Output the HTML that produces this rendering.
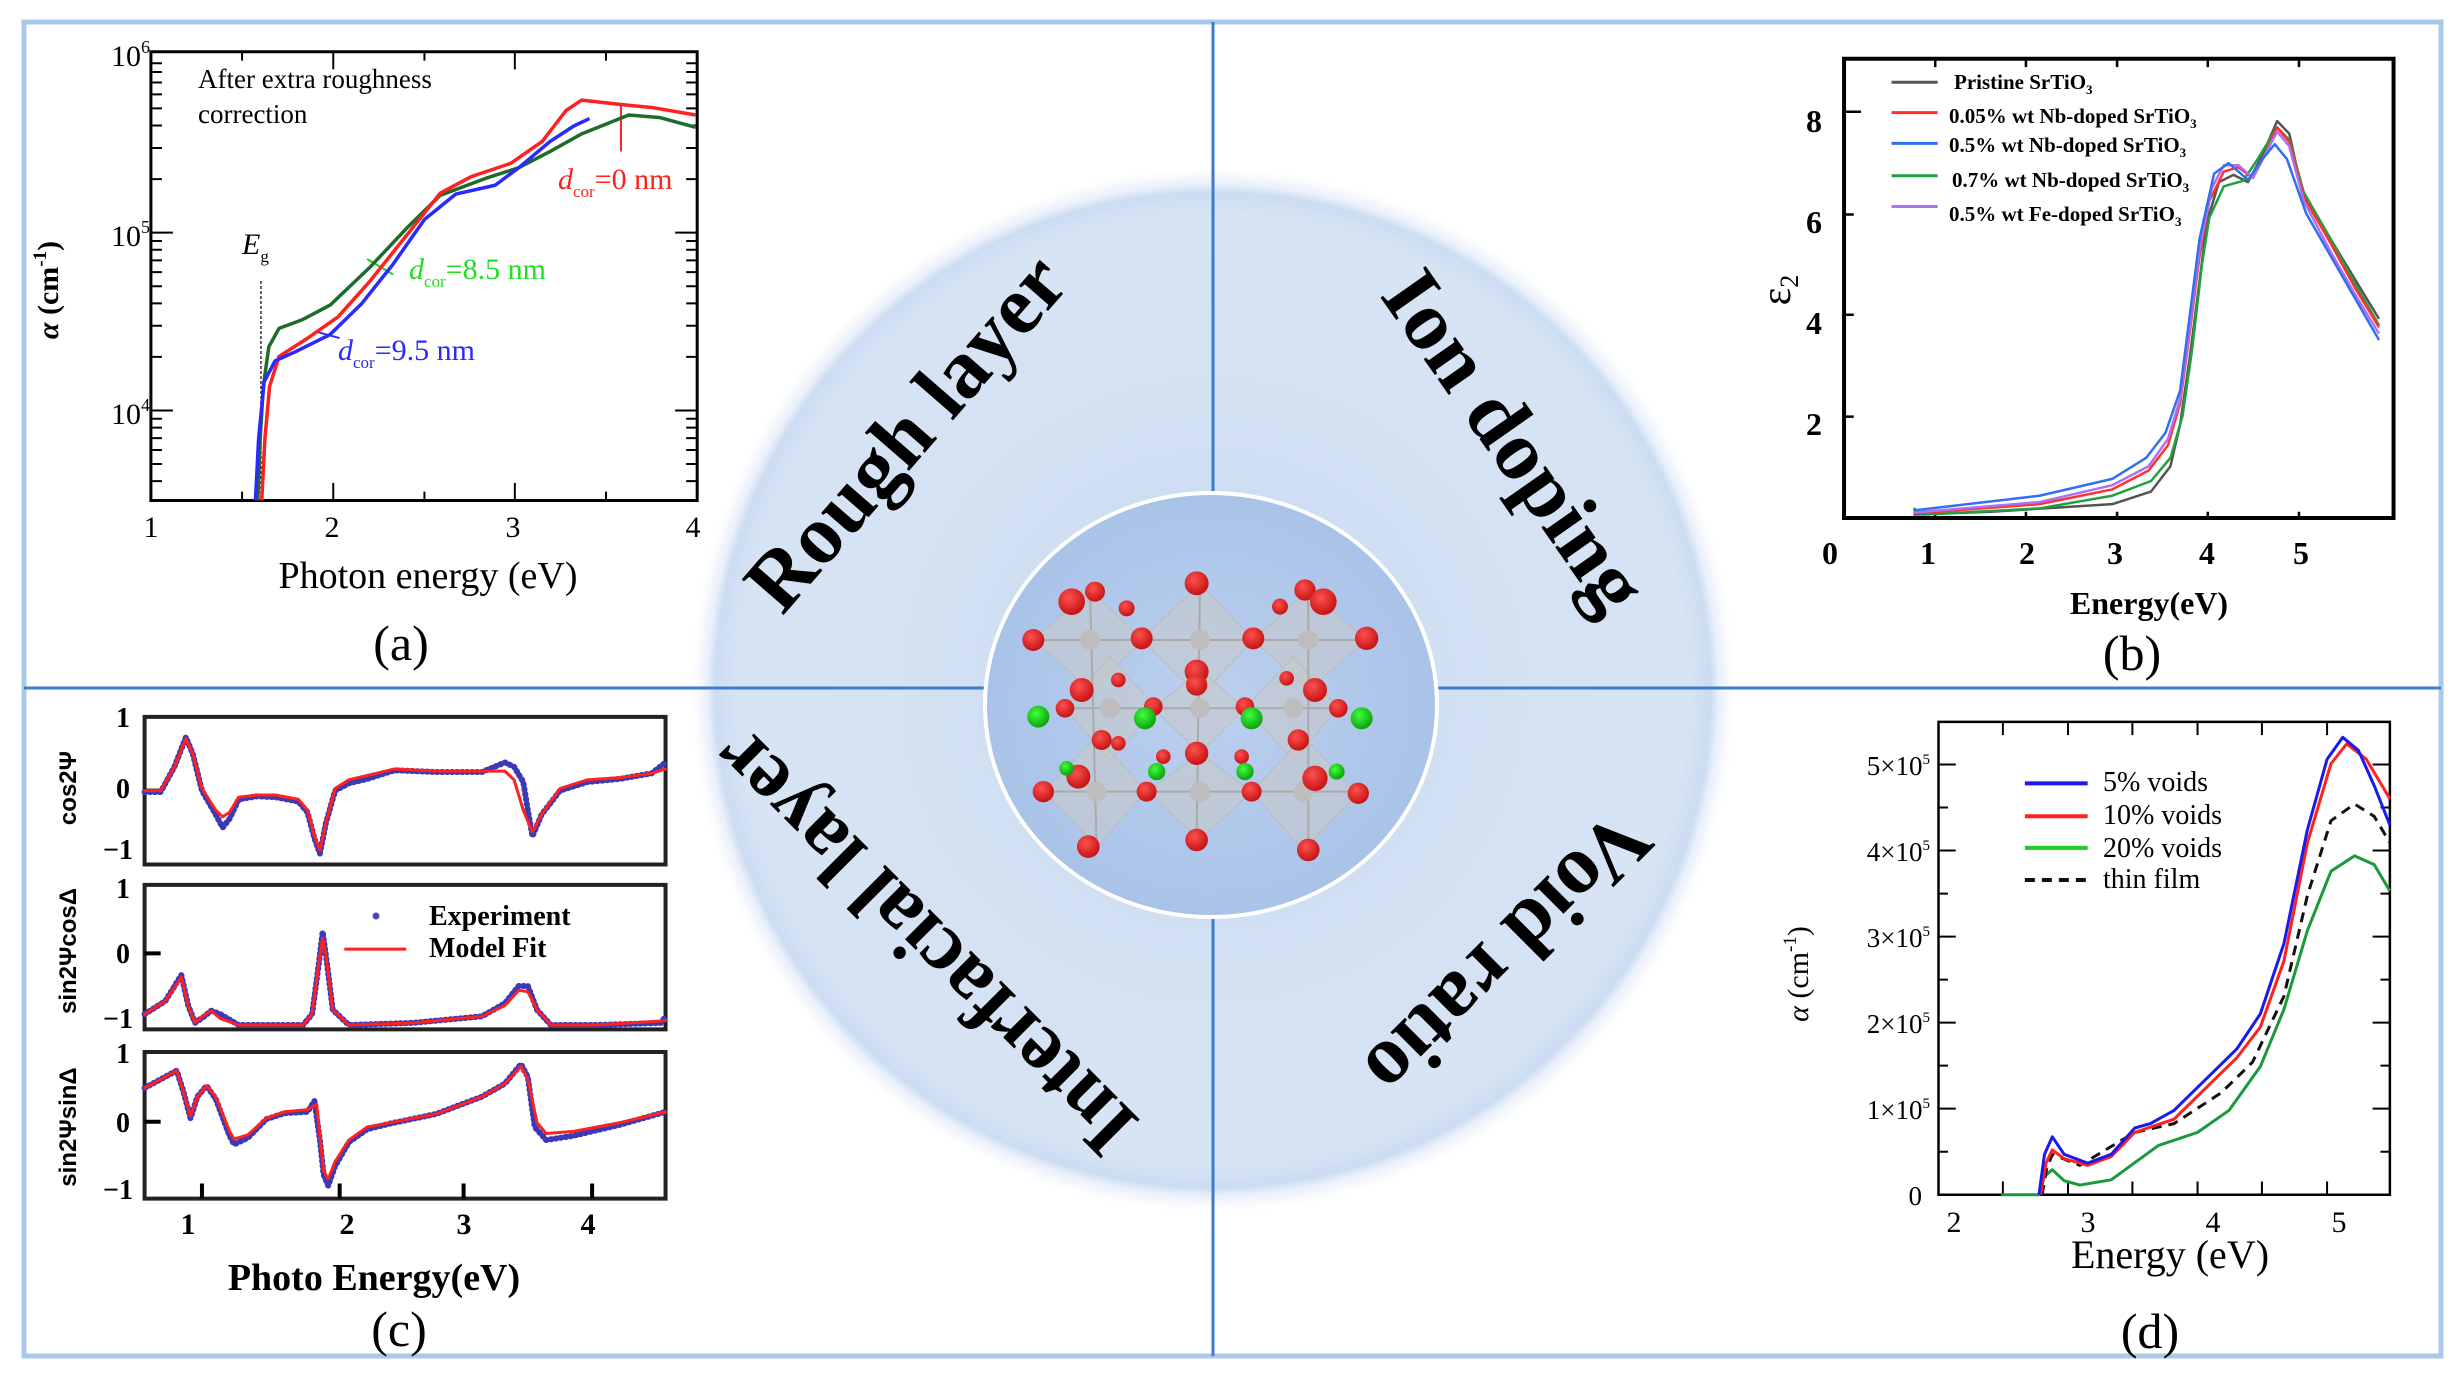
<!DOCTYPE html>
<html><head><meta charset="utf-8"><style>
html,body{margin:0;padding:0;background:#fff;}
svg{display:block;}
.serif{font-family:"Liberation Serif",serif;}
.sans{font-family:"Liberation Sans",sans-serif;}
</style></head><body>
<svg width="2463" height="1378" viewBox="0 0 2463 1378" xmlns="http://www.w3.org/2000/svg">
<defs>
<radialGradient id="big" cx="0.5" cy="0.5" r="0.5">
<stop offset="0" stop-color="#c2d5ee"/>
<stop offset="0.55" stop-color="#d3e1f3"/>
<stop offset="0.94" stop-color="#d7e4f4"/>
<stop offset="0.985" stop-color="#ccdcf2"/>
<stop offset="1" stop-color="#e6eef9"/>
</radialGradient>
<radialGradient id="inner" cx="0.5" cy="0.5" r="0.5">
<stop offset="0" stop-color="#bcd0ee"/>
<stop offset="1" stop-color="#a9c3e8"/>
</radialGradient>
<radialGradient id="rb" cx="0.4" cy="0.35" r="0.6">
<stop offset="0" stop-color="#ff5050"/><stop offset="1" stop-color="#c81818"/>
</radialGradient>
<radialGradient id="gb" cx="0.4" cy="0.35" r="0.6">
<stop offset="0" stop-color="#40ff40"/><stop offset="1" stop-color="#10a810"/>
</radialGradient>
<filter id="blur"><feGaussianBlur stdDeviation="6"/></filter>
</defs>

<!-- frame -->
<rect x="24" y="22" width="2417" height="1334" fill="#fff" stroke="#a9c8ec" stroke-width="5"/>

<!-- big circle -->
<circle cx="1213" cy="690" r="512" fill="#e6eef9" filter="url(#blur)"/>
<circle cx="1213" cy="690" r="505" fill="url(#big)"/>

<!-- cross lines -->
<line x1="1213" y1="22" x2="1213" y2="1356" stroke="#3b7dcc" stroke-width="3"/>
<line x1="24" y1="688" x2="2441" y2="688" stroke="#3b7dcc" stroke-width="3"/>

<!-- inner circle -->
<ellipse cx="1211" cy="705" rx="226" ry="212" fill="url(#inner)" stroke="#fff" stroke-width="4"/>

<!-- crystal -->
<g transform="translate(950,470) scale(0.3333)">
<g fill="#c8c8c8" fill-opacity="0.55" stroke="#bbb" stroke-width="3">
<polygon points="420,360 580,510 420,660 250,510"/>
<polygon points="750,340 910,510 750,680 575,510"/>
<polygon points="1075,360 1250,510 1075,660 910,510"/>
<polygon points="480,560 620,715 480,870 345,715"/>
<polygon points="750,600 885,715 750,850 610,715"/>
<polygon points="1030,560 1165,715 1030,870 885,715"/>
<polygon points="440,800 590,965 440,1130 280,965"/>
<polygon points="750,850 905,965 750,1110 590,965"/>
<polygon points="1060,800 1225,970 1060,1140 905,965"/>
</g>
<g stroke="#aaa" stroke-width="6">
<line x1="250" y1="510" x2="1250" y2="510"/><line x1="345" y1="715" x2="1165" y2="715"/><line x1="280" y1="965" x2="1225" y2="965"/>
<line x1="420" y1="360" x2="440" y2="1130"/><line x1="750" y1="340" x2="740" y2="1110"/><line x1="1075" y1="360" x2="1075" y2="1140"/>
</g>
<g fill="#bdbdbd">
<circle cx="420" cy="510" r="30"/><circle cx="750" cy="510" r="30"/><circle cx="1075" cy="510" r="30"/>
<circle cx="480" cy="715" r="30"/><circle cx="750" cy="715" r="30"/><circle cx="1030" cy="715" r="30"/>
<circle cx="440" cy="965" r="30"/><circle cx="750" cy="965" r="30"/><circle cx="1060" cy="965" r="30"/>
</g>
<g fill="url(#rb)">
<circle cx="740" cy="340" r="36"/><circle cx="365" cy="395" r="40"/><circle cx="435" cy="365" r="30"/><circle cx="1065" cy="360" r="32"/><circle cx="1120" cy="395" r="40"/>
<circle cx="250" cy="510" r="33"/><circle cx="575" cy="505" r="33"/><circle cx="910" cy="505" r="33"/><circle cx="1250" cy="505" r="35"/>
<circle cx="740" cy="605" r="36"/><circle cx="740" cy="645" r="32"/><circle cx="395" cy="660" r="36"/><circle cx="1095" cy="660" r="36"/>
<circle cx="345" cy="715" r="28"/><circle cx="610" cy="710" r="28"/><circle cx="885" cy="710" r="28"/><circle cx="1165" cy="715" r="28"/>
<circle cx="455" cy="810" r="30"/><circle cx="1045" cy="810" r="32"/><circle cx="740" cy="850" r="35"/><circle cx="640" cy="860" r="22"/><circle cx="875" cy="860" r="22"/>
<circle cx="385" cy="920" r="36"/><circle cx="1095" cy="925" r="38"/><circle cx="280" cy="965" r="32"/><circle cx="590" cy="965" r="30"/><circle cx="905" cy="965" r="30"/><circle cx="1225" cy="970" r="32"/>
<circle cx="415" cy="1130" r="34"/><circle cx="740" cy="1110" r="34"/><circle cx="1075" cy="1140" r="34"/><circle cx="530" cy="415" r="24"/><circle cx="990" cy="410" r="24"/>
<circle cx="505" cy="630" r="22"/><circle cx="1010" cy="625" r="22"/><circle cx="505" cy="820" r="22"/>
</g>
<g fill="url(#gb)">
<circle cx="265" cy="740" r="33"/><circle cx="585" cy="745" r="33"/><circle cx="905" cy="745" r="33"/><circle cx="1235" cy="745" r="33"/>
<circle cx="620" cy="905" r="26"/><circle cx="885" cy="905" r="26"/><circle cx="1160" cy="905" r="24"/><circle cx="350" cy="895" r="22"/>
</g>
</g>

<!-- rotated labels -->
<g class="serif" font-weight="bold" font-size="84" fill="#000" text-anchor="middle" dominant-baseline="middle">
<text transform="translate(912,438) rotate(-49)" textLength="440" lengthAdjust="spacingAndGlyphs">Rough layer</text>
<text transform="translate(1508,446) rotate(55)" textLength="395" lengthAdjust="spacingAndGlyphs">Ion doping</text>
<text transform="translate(930,937) rotate(-135)" textLength="560" lengthAdjust="spacingAndGlyphs">Interfacial layer</text>
<text transform="translate(1502,948) rotate(135)" textLength="365" lengthAdjust="spacingAndGlyphs">Void ratio</text>
</g>

<!-- ===== Panel (a) ===== -->
<g transform="matrix(0.786,0,0,0.439,0,0)" fill="none">
<rect x="192" y="118" width="695" height="1022" stroke="#000" stroke-width="3" vector-effect="non-scaling-stroke"/>
<g stroke="#000" stroke-width="2" vector-effect="non-scaling-stroke">
<path vector-effect="non-scaling-stroke" d="M192,935h28M192,530h28M887,935h-28M887,530h-28
M192,1096h14M192,1057h14M192,1025h14M192,998h14M192,974h14M192,954h14
M192,813h14M192,742h14M192,691h14M192,652h14M192,620h14M192,593h14M192,569h14M192,549h14
M192,408h14M192,337h14M192,286h14M192,247h14M192,215h14M192,188h14M192,164h14M192,144h14
M887,1096h-14M887,1057h-14M887,1025h-14M887,998h-14M887,974h-14M887,954h-14
M887,813h-14M887,742h-14M887,691h-14M887,652h-14M887,620h-14M887,593h-14M887,569h-14M887,549h-14
M887,408h-14M887,337h-14M887,286h-14M887,247h-14M887,215h-14M887,188h-14M887,164h-14M887,144h-14
M424,1140v-40M655,1140v-40M308,1140v-20M540,1140v-20M771,1140v-20
M424,118v40M655,118v40M308,118v20M540,118v20M771,118v20"/>
</g>
<path d="M332,640V1140" stroke="#333" stroke-width="1.5" stroke-dasharray="3,2" vector-effect="non-scaling-stroke"/>
<path d="M790,240V345" stroke="#ff2020" stroke-width="2" vector-effect="non-scaling-stroke"/>
<path d="M467,590L500,625" stroke="#22cc22" stroke-width="2" vector-effect="non-scaling-stroke"/>
<path d="M405,757L432,770" stroke="#2a2aff" stroke-width="2" vector-effect="non-scaling-stroke"/>
<g stroke-width="3.5" stroke-linejoin="round" vector-effect="non-scaling-stroke">
<path vector-effect="non-scaling-stroke" stroke="#1f6b2a" d="M328,1140 L331,1000 L335,880 L342,790 L355,748 L385,728 L420,695 L470,610 L520,515 L560,445 L620,405 L660,382 L700,345 L740,305 L800,262 L840,268 L885,290"/>
<path vector-effect="non-scaling-stroke" stroke="#ff2020" d="M333,1140 L337,1000 L343,880 L355,812 L390,772 L430,722 L470,642 L520,530 L560,440 L600,402 L650,372 L690,322 L720,252 L740,228 L760,232 L790,238 L830,245 L885,262"/>
<path vector-effect="non-scaling-stroke" stroke="#2a2aff" d="M325,1140 L329,1000 L336,870 L350,822 L375,802 L420,762 L460,692 L500,602 L540,500 L580,442 L630,422 L660,382 L700,322 L730,287 L750,270"/>
</g>
</g>
<g class="serif" fill="#000">
<text x="198" y="88" font-size="27">After extra roughness</text>
<text x="198" y="123" font-size="27">correction</text>
<text x="150" y="66" font-size="30" text-anchor="end">10<tspan font-size="18" dy="-13">6</tspan></text>
<text x="150" y="246" font-size="30" text-anchor="end">10<tspan font-size="18" dy="-13">5</tspan></text>
<text x="150" y="424" font-size="30" text-anchor="end">10<tspan font-size="18" dy="-13">4</tspan></text>
<g font-size="30" text-anchor="middle">
<text x="151" y="537">1</text><text x="332" y="537">2</text><text x="513" y="537">3</text><text x="693" y="537">4</text>
</g>
<text x="428" y="588" font-size="38" text-anchor="middle">Photon energy (eV)</text>
<text x="401" y="660" font-size="50" text-anchor="middle">(a)</text>
<text transform="translate(58,290) rotate(-90)" font-size="30" font-weight="bold" text-anchor="middle"><tspan font-style="italic">α</tspan> (cm<tspan font-size="19" dy="-12">-1</tspan><tspan dy="12">)</tspan></text>
<text x="242" y="254" font-size="30" font-style="italic">E<tspan font-size="17" dy="8" font-style="normal">g</tspan></text>
<text x="558" y="189" font-size="30" fill="#ff2020"><tspan font-style="italic">d</tspan><tspan font-size="17" dy="8">cor</tspan><tspan dy="-8">=0 nm</tspan></text>
<text x="409" y="279" font-size="30" fill="#22dd22"><tspan font-style="italic">d</tspan><tspan font-size="17" dy="8">cor</tspan><tspan dy="-8">=8.5 nm</tspan></text>
<text x="338" y="360" font-size="30" fill="#2a2aff"><tspan font-style="italic">d</tspan><tspan font-size="17" dy="8">cor</tspan><tspan dy="-8">=9.5 nm</tspan></text>
</g>

<!-- ===== Panel (b) ===== -->
<g transform="matrix(0.485,0,0,0.421,1700,20)" fill="none">
<rect x="297" y="92" width="1133" height="1091" stroke="#000" stroke-width="4" vector-effect="non-scaling-stroke"/>
<path vector-effect="non-scaling-stroke" stroke="#000" stroke-width="2.5" d="M297,218h35M297,462h20M297,700h20M297,942h20M485,92v20M672,92v20M860,92v20M1047,92v20M1235,92v20M485,1183v-15M672,1183v-15M860,1183v-15M1047,1183v-15M1235,1183v-15"/>
<g stroke-width="2.5" stroke-linejoin="round">
<path vector-effect="non-scaling-stroke" stroke="#555" d="M440,1175 L600,1168 L850,1150 L930,1120 L970,1060 L990,960 L1010,800 L1030,620 L1045,480 L1070,385 L1100,368 L1130,385 L1160,320 L1190,240 L1215,270 L1240,400 L1300,520 L1350,615 L1400,710"/>
<path vector-effect="non-scaling-stroke" stroke="#22a040" d="M440,1160 L460,1175 L700,1160 L850,1130 L930,1095 L970,1040 L995,940 L1015,780 L1035,580 L1050,470 L1080,395 L1120,382 L1150,330 L1190,255 L1215,285 L1245,410 L1300,520 L1350,625 L1400,725"/>
<path vector-effect="non-scaling-stroke" stroke="#ff3030" d="M440,1172 L700,1150 L850,1115 L925,1070 L965,1010 L990,910 L1010,740 L1030,560 L1050,430 L1080,360 L1110,350 L1140,375 L1165,320 L1190,255 L1215,290 L1245,420 L1300,530 L1350,635 L1400,730"/>
<path vector-effect="non-scaling-stroke" stroke="#b070f0" d="M440,1170 L700,1145 L850,1105 L925,1060 L965,995 L990,900 L1010,730 L1030,545 L1055,400 L1080,345 L1110,345 L1140,375 L1165,320 L1190,265 L1215,300 L1245,430 L1300,550 L1350,650 L1400,745"/>
<path vector-effect="non-scaling-stroke" stroke="#3070f0" d="M440,1165 L700,1130 L850,1090 L920,1040 L960,980 L990,880 L1010,700 L1030,520 L1060,365 L1090,340 L1130,380 L1160,330 L1185,295 L1210,330 L1250,460 L1300,560 L1350,660 L1400,760"/>
</g>
<g stroke-width="3" vector-effect="non-scaling-stroke">
<path vector-effect="non-scaling-stroke" stroke="#555" d="M395,148H490"/>
<path vector-effect="non-scaling-stroke" stroke="#ff3030" d="M395,220H490"/>
<path vector-effect="non-scaling-stroke" stroke="#3070f0" d="M395,293H490"/>
<path vector-effect="non-scaling-stroke" stroke="#22a040" d="M395,370H490"/>
<path vector-effect="non-scaling-stroke" stroke="#b070f0" d="M395,443H490"/>
</g>
</g>
<g class="serif" fill="#000" font-weight="bold">
<g font-size="21">
<text x="1954" y="89">Pristine SrTiO<tspan font-size="13" dy="5">3</tspan></text>
<text x="1949" y="123">0.05% wt Nb-doped SrTiO<tspan font-size="13" dy="5">3</tspan></text>
<text x="1949" y="152">0.5% wt Nb-doped SrTiO<tspan font-size="13" dy="5">3</tspan></text>
<text x="1952" y="187">0.7% wt Nb-doped SrTiO<tspan font-size="13" dy="5">3</tspan></text>
<text x="1949" y="221">0.5% wt Fe-doped SrTiO<tspan font-size="13" dy="5">3</tspan></text>
</g>
<g font-size="32" text-anchor="middle">
<text x="1814" y="132">8</text><text x="1814" y="233">6</text><text x="1814" y="334">4</text><text x="1814" y="435">2</text>
<text x="1830" y="564">0</text><text x="1928" y="564">1</text><text x="2027" y="564">2</text><text x="2115" y="564">3</text><text x="2207" y="564">4</text><text x="2301" y="564">5</text>
</g>
<text x="2149" y="614" font-size="32" text-anchor="middle">Energy(eV)</text>
<text transform="translate(1790,290) rotate(-90)" font-size="42" text-anchor="middle" font-weight="normal">ε<tspan font-size="26" dy="8">2</tspan></text>
</g>
<text class="serif" x="2132" y="670" font-size="50" text-anchor="middle">(b)</text>

<!-- ===== Panel (c) ===== -->
<g transform="matrix(0.459,0,0,0.434,0,680)" fill="none">
<g stroke="#222" stroke-width="4">
<rect vector-effect="non-scaling-stroke" x="315" y="85" width="1135" height="340"/>
<rect vector-effect="non-scaling-stroke" x="315" y="472" width="1135" height="333"/>
<rect vector-effect="non-scaling-stroke" x="315" y="857" width="1135" height="338"/>
</g>
<path vector-effect="non-scaling-stroke" stroke="#000" stroke-width="4" d="M440,1195v-35M740,1195v-35M1010,1195v-35M1290,1195v-35M315,255h35M315,630h35M315,1018h35"/>
<g stroke-linejoin="round" stroke-linecap="round">
<path vector-effect="non-scaling-stroke" stroke="#3a3ab8" stroke-width="6" stroke-dasharray="1,4" d="M315,258 L350,258 L380,200 L405,132 L420,170 L440,255 L470,310 L485,340 L500,320 L520,275 L560,268 L600,270 L650,280 L670,305 L685,365 L697,400 L710,330 L730,255 L760,238 L800,228 L860,208 L950,212 L1050,212 L1100,190 L1120,200 L1140,235 L1150,300 L1160,360 L1180,310 L1220,255 L1280,235 L1350,228 L1420,215 L1450,190"/>
<path vector-effect="non-scaling-stroke" stroke="#ff2020" stroke-width="3" d="M315,255 L350,255 L380,200 L405,135 L420,170 L440,250 L470,300 L485,315 L500,305 L520,270 L560,265 L600,265 L650,275 L670,300 L685,360 L697,392 L710,330 L730,250 L760,230 L800,220 L860,205 L950,210 L1050,210 L1100,210 L1120,230 L1140,300 L1160,350 L1180,310 L1220,250 L1280,230 L1350,225 L1420,215 L1450,205"/>
<path vector-effect="non-scaling-stroke" stroke="#3a3ab8" stroke-width="6" stroke-dasharray="1,4" d="M315,770 L360,740 L395,680 L410,750 L425,790 L445,775 L460,762 L480,770 L520,795 L660,795 L680,770 L695,650 L703,580 L712,650 L725,760 L760,795 L900,790 L1050,775 L1100,745 L1130,705 L1150,705 L1170,760 L1200,795 L1300,795 L1440,790 L1450,775"/>
<path vector-effect="non-scaling-stroke" stroke="#ff2020" stroke-width="3" d="M315,770 L360,740 L395,685 L410,750 L425,790 L445,772 L460,762 L480,780 L520,795 L660,795 L680,770 L695,650 L703,595 L712,650 L725,760 L760,795 L900,790 L1050,775 L1100,750 L1130,715 L1150,718 L1170,760 L1200,795 L1300,795 L1450,785"/>
<path vector-effect="non-scaling-stroke" stroke="#3a3ab8" stroke-width="6" stroke-dasharray="1,4" d="M315,940 L350,920 L385,900 L400,950 L415,1010 L430,960 L450,935 L470,965 L500,1050 L510,1070 L540,1055 L580,1012 L620,998 L670,995 L685,970 L697,1060 L705,1140 L715,1165 L730,1120 L760,1065 L800,1035 L850,1022 L950,1000 L1050,960 L1100,930 L1135,885 L1150,915 L1165,1030 L1190,1060 L1250,1050 L1350,1025 L1450,995"/>
<path vector-effect="non-scaling-stroke" stroke="#ff2020" stroke-width="3" d="M315,940 L350,920 L385,900 L400,950 L415,1005 L430,960 L450,935 L470,960 L500,1040 L510,1058 L540,1048 L580,1010 L620,995 L670,990 L690,978 L697,1050 L705,1130 L715,1150 L730,1110 L760,1060 L800,1030 L850,1020 L950,1000 L1050,960 L1100,930 L1135,890 L1150,920 L1170,1020 L1190,1045 L1250,1040 L1350,1020 L1450,995"/>
</g>
<path vector-effect="non-scaling-stroke" stroke="#ff2020" stroke-width="3" d="M750,620H885"/>
</g>
<circle cx="376" cy="916" r="3.5" fill="#4a4ac0"/>
<g class="serif" fill="#000" font-weight="bold">
<g font-size="28">
<text x="429" y="925">Experiment</text>
<text x="429" y="957">Model Fit</text>
</g>
<g font-size="28" text-anchor="end">
<text x="130" y="727">1</text><text x="130" y="798">0</text><text x="133" y="859">−1</text>
<text x="130" y="898">1</text><text x="130" y="963">0</text><text x="133" y="1028">−1</text>
<text x="130" y="1063">1</text><text x="130" y="1132">0</text><text x="133" y="1199">−1</text>
</g>
<g font-size="30" text-anchor="middle">
<text x="188" y="1234">1</text><text x="347" y="1234">2</text><text x="464" y="1234">3</text><text x="588" y="1234">4</text>
</g>
<text x="374" y="1290" font-size="38" text-anchor="middle">Photo Energy(eV)</text>
</g>
<g class="sans" font-weight="bold" font-size="24" fill="#000" text-anchor="middle">
<text transform="translate(76,788) rotate(-90)">cos2Ψ</text>
<text transform="translate(76,951) rotate(-90)">sin2ΨcosΔ</text>
<text transform="translate(76,1127) rotate(-90)">sin2ΨsinΔ</text>
</g>
<text class="serif" x="399" y="1346" font-size="50" text-anchor="middle">(c)</text>

<!-- ===== Panel (d) ===== -->
<g transform="matrix(0.785,0,0,0.439,1232,689)" fill="none">
<rect vector-effect="non-scaling-stroke" x="900" y="75" width="575" height="1077" stroke="#000" stroke-width="2.5"/>
<path vector-effect="non-scaling-stroke" stroke="#000" stroke-width="2" d="M900,956h22M900,760h22M900,564h22M900,368h22M900,172h22M900,1054h12M900,858h12M900,662h12M900,466h12M900,270h12
M1475,956h-22M1475,760h-22M1475,564h-22M1475,368h-22M1475,172h-22M1475,1054h-12M1475,858h-12M1475,662h-12M1475,466h-12M1475,270h-12
M982,75v30M1065,75v30M1147,75v30M1230,75v30M1312,75v30M1395,75v30M982,1152v-30M1065,1152v-30M1147,1152v-30M1230,1152v-30M1312,1152v-30M1395,1152v-30"/>
<g stroke-width="3" stroke-linejoin="round">
<path vector-effect="non-scaling-stroke" stroke="#1a9a3a" d="M980,1152 L1028,1152 L1035,1110 L1045,1095 L1060,1120 L1080,1130 L1120,1118 L1180,1040 L1230,1010 L1270,960 L1310,860 L1340,730 L1370,550 L1400,415 L1430,380 L1455,400 L1475,460"/>
<path vector-effect="non-scaling-stroke" stroke="#111" stroke-dasharray="10,7" d="M1032,1152 L1038,1090 L1045,1060 L1080,1085 L1150,1010 L1200,990 L1260,920 L1300,850 L1340,700 L1370,470 L1400,300 L1430,262 L1455,290 L1475,350"/>
<path vector-effect="non-scaling-stroke" stroke="#ff2020" d="M1030,1152 L1037,1080 L1045,1050 L1060,1070 L1090,1085 L1120,1065 L1150,1010 L1200,980 L1240,910 L1280,840 L1310,770 L1340,620 L1370,350 L1400,170 L1420,125 L1445,160 L1475,250"/>
<path vector-effect="non-scaling-stroke" stroke="#1a1aee" d="M1028,1152 L1035,1060 L1045,1020 L1060,1060 L1090,1080 L1120,1060 L1150,1000 L1170,990 L1200,960 L1240,890 L1280,820 L1310,740 L1340,580 L1370,320 L1395,160 L1415,110 L1435,140 L1455,220 L1475,310"/>
</g>
<g stroke-width="4">
<path vector-effect="non-scaling-stroke" stroke="#1a1aee" d="M1010,215H1090"/>
<path vector-effect="non-scaling-stroke" stroke="#ff2020" d="M1010,290H1090"/>
<path vector-effect="non-scaling-stroke" stroke="#22cc22" d="M1010,362H1090"/>
<path vector-effect="non-scaling-stroke" stroke="#111" stroke-dasharray="10,7" d="M1010,435H1090"/>
</g>
</g>
<g class="serif" fill="#000">
<g font-size="28">
<text x="2103" y="791">5% voids</text>
<text x="2103" y="824">10% voids</text>
<text x="2103" y="857">20% voids</text>
<text x="2103" y="888">thin film</text>
</g>
<g font-size="27" text-anchor="end">
<text x="1930" y="775">5×10<tspan font-size="15" dy="-11">5</tspan></text>
<text x="1930" y="861">4×10<tspan font-size="15" dy="-11">5</tspan></text>
<text x="1930" y="947">3×10<tspan font-size="15" dy="-11">5</tspan></text>
<text x="1930" y="1033">2×10<tspan font-size="15" dy="-11">5</tspan></text>
<text x="1930" y="1119">1×10<tspan font-size="15" dy="-11">5</tspan></text>
<text x="1922" y="1205">0</text>
</g>
<g font-size="30" text-anchor="middle">
<text x="1954" y="1232">2</text><text x="2088" y="1232">3</text><text x="2213" y="1232">4</text><text x="2339" y="1232">5</text>
</g>
<text x="2170" y="1268" font-size="40" text-anchor="middle">Energy (eV)</text>
<text x="2150" y="1348" font-size="50" text-anchor="middle">(d)</text>
<text transform="translate(1808,974) rotate(-90)" font-size="30" text-anchor="middle"><tspan font-style="italic">α</tspan> (cm<tspan font-size="19" dy="-12">-1</tspan><tspan dy="12">)</tspan></text>
</g>
</svg>
</body></html>
